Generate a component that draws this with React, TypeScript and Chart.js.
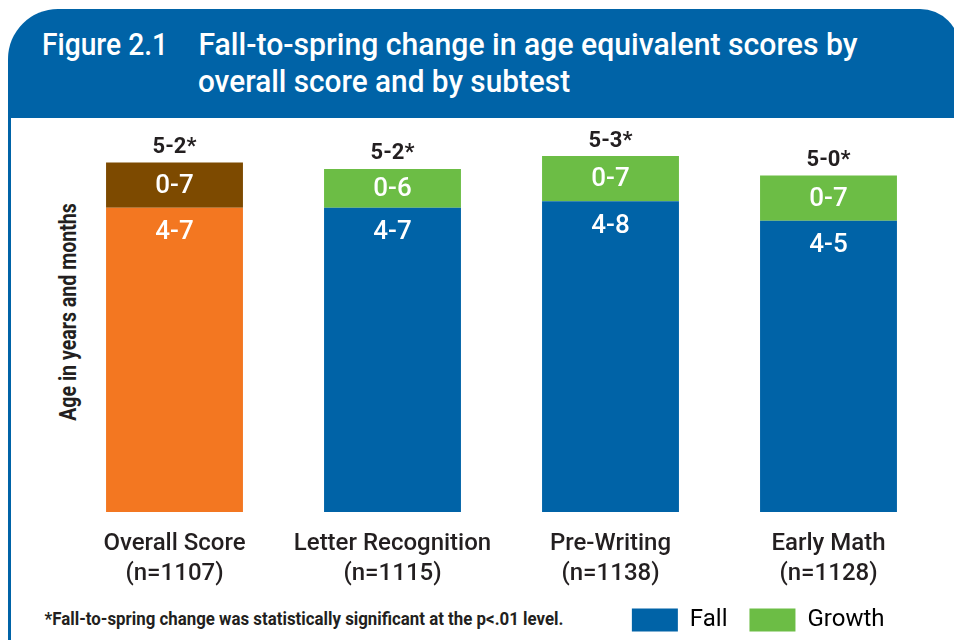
import React, { useEffect, useRef, useLayoutEffect, useState } from "react";
import { Chart, registerables } from "chart.js";

Chart.register(...registerables);

// ---------- data ----------
const categories = [
  ["Overall Score", "(n=1107)"],
  ["Letter Recognition", "(n=1115)"],
  ["Pre-Writing", "(n=1138)"],
  ["Early Math", "(n=1128)"],
];
const seriesNames = ["Fall", "Growth"];
// ages in months
const fallMonths = [55, 55, 56, 53];
const growthMonths = [7, 6, 7, 7];
const fallLabels = ["4-7", "4-7", "4-8", "4-5"];
const growthLabels = ["0-7", "0-6", "0-7", "0-7"];
const springLabels = ["5-2*", "5-2*", "5-3*", "5-0*"];
const axisMin = 8;
const axisMax = 63;

const titleNumber = "Figure 2.1";
const titleLine1 = "Fall-to-spring change in age equivalent scores by";
const titleLine2 = "overall score and by subtest";
const yTitle = "Age in years and months";
const footnote = "*Fall-to-spring change was statistically significant at the p<.01 level.";

// ---------- colours ----------
const BLUE = "#0063A7";
const GREEN = "#6CBD45";
const ORANGE = "#F37721";
const BROWN = "#7D4A00";
const DARK = "#231F20";

const fallColors = [ORANGE, BLUE, BLUE, BLUE];
const growthColors = [BROWN, GREEN, GREEN, GREEN];

function FitText(props: {
  text: string;
  cx: number;
  cy: number;
  width: number;
  font: string;
  color: string;
  rotate?: number;
}) {
  const ref = useRef<HTMLSpanElement>(null);
  const [sx, setSx] = useState(1);
  useLayoutEffect(() => {
    if (ref.current) {
      const w = ref.current.offsetWidth;
      if (w > 0) setSx(props.width / w);
    }
  }, [props.text, props.width, props.font]);
  return (
    <span
      ref={ref}
      style={{
        position: "absolute",
        left: props.cx,
        top: props.cy,
        font: props.font,
        color: props.color,
        lineHeight: 1,
        whiteSpace: "nowrap",
        display: "inline-block",
        transformOrigin: "0 0",
        transform: `rotate(${props.rotate || 0}deg) scaleX(${sx}) translate(-50%, -50%)`,
      }}
    >
      {props.text}
    </span>
  );
}

function BarChart() {
  const canvasRef = useRef<HTMLCanvasElement>(null);
  useEffect(() => {
    if (!canvasRef.current) return;
    const labelPlugin = {
      id: "barLabels",
      afterDatasetsDraw(chart: any) {
        const ctx = chart.ctx;
        const fallMeta = chart.getDatasetMeta(0);
        const growMeta = chart.getDatasetMeta(1);
        ctx.save();
        ctx.textAlign = "center";
        ctx.textBaseline = "middle";
        fallMeta.data.forEach((bar: any, i: number) => {
          const g = growMeta.data[i];
          ctx.fillStyle = "#ffffff";
          ctx.font = "500 26px Roboto";
          ctx.fillText(growthLabels[i], g.x, (g.y + g.base) / 2 + 1);
          ctx.fillText(fallLabels[i], bar.x, bar.y + 25);
          ctx.fillStyle = DARK;
          ctx.font = "bold 22px Roboto";
          ctx.fillText(springLabels[i], g.x, g.y - 15);
        });
        ctx.restore();
      },
    };
    const legendShift = {
      id: "legendShift",
      afterLayout(chart: any) {
        const lg = chart.legend;
        if (lg) {
          lg.left -= 31;
          lg.right -= 31;
        }
      },
    };
    const chart = new Chart(canvasRef.current, {
      type: "bar",
      data: {
        labels: categories as any,
        datasets: [
          {
            label: seriesNames[0],
            data: fallMonths,
            backgroundColor: fallColors,
            borderWidth: 0,
          },
          {
            label: seriesNames[1],
            data: growthMonths,
            backgroundColor: growthColors,
            borderWidth: 0,
          },
        ],
      },
      options: {
        animation: false,
        responsive: false,
        events: [],
        layout: { padding: { left: 65.5, right: 16.5, top: 38, bottom: -2 } },
        datasets: {
          bar: { barPercentage: 0.628, categoryPercentage: 1 },
        } as any,
        scales: {
          x: {
            stacked: true,
            grid: { display: false, drawTicks: false },
            border: { display: false },
            afterFit(scale: any) {
              scale.height -= 20;
            },
            ticks: {
              color: DARK,
              font: { family: "Roboto", size: 24, weight: "500", lineHeight: 1.25 },
              padding: 17,
              maxRotation: 0,
              autoSkip: false,
            },
          },
          y: {
            stacked: true,
            display: false,
            min: axisMin,
            max: axisMax,
          },
        },
        plugins: {
          title: { display: false },
          tooltip: { enabled: false },
          legend: {
            display: true,
            position: "bottom",
            align: "end",
            labels: {
              boxWidth: 46,
              boxHeight: 23,
              padding: 22,
              color: DARK,
              font: { family: "Roboto", size: 24 },
              generateLabels: () =>
                seriesNames.map((n, i) => ({
                  text: n,
                  fillStyle: i === 0 ? BLUE : GREEN,
                  strokeStyle: i === 0 ? BLUE : GREEN,
                  lineWidth: 0,
                  hidden: false,
                  datasetIndex: i,
                })),
            },
          },
        },
      },
      plugins: [labelPlugin, legendShift],
    });
    return () => chart.destroy();
  }, []);
  return (
    <canvas
      ref={canvasRef}
      width={954}
      height={522}
      style={{ position: "absolute", left: 0, top: 118, width: 954, height: 522 }}
    />
  );
}

export default function App() {
  return (
    <div
      style={{
        position: "absolute",
        left: 0,
        top: 0,
        width: 954,
        height: 640,
        overflow: "hidden",
        background: "#ffffff",
        fontFamily: "Roboto, sans-serif",
      }}
    >
      {/* header band */}
      <div
        style={{
          position: "absolute",
          left: 8,
          top: 9,
          width: 952,
          height: 109,
          background: BLUE,
          borderTopLeftRadius: 50,
          borderTopRightRadius: 40,
        }}
      />
      {/* left frame line */}
      <div
        style={{
          position: "absolute",
          left: 8,
          top: 110,
          width: 2.5,
          height: 540,
          background: BLUE,
        }}
      />
      <FitText text={titleNumber} cx={105} cy={44} width={126} font="500 32px Roboto" color="#ffffff" />
      <FitText text={titleLine1} cx={527.5} cy={44} width={659} font="500 32px Roboto" color="#ffffff" />
      <FitText text={titleLine2} cx={384} cy={81} width={372} font="500 32px Roboto" color="#ffffff" />
      <FitText text={yTitle} cx={68} cy={312} width={218} font="bold 23px Roboto" color={DARK} rotate={-90} />
      <FitText text={footnote} cx={303.5} cy={618} width={519} font="bold 19px Roboto" color={DARK} />
      <BarChart />
    </div>
  );
}
